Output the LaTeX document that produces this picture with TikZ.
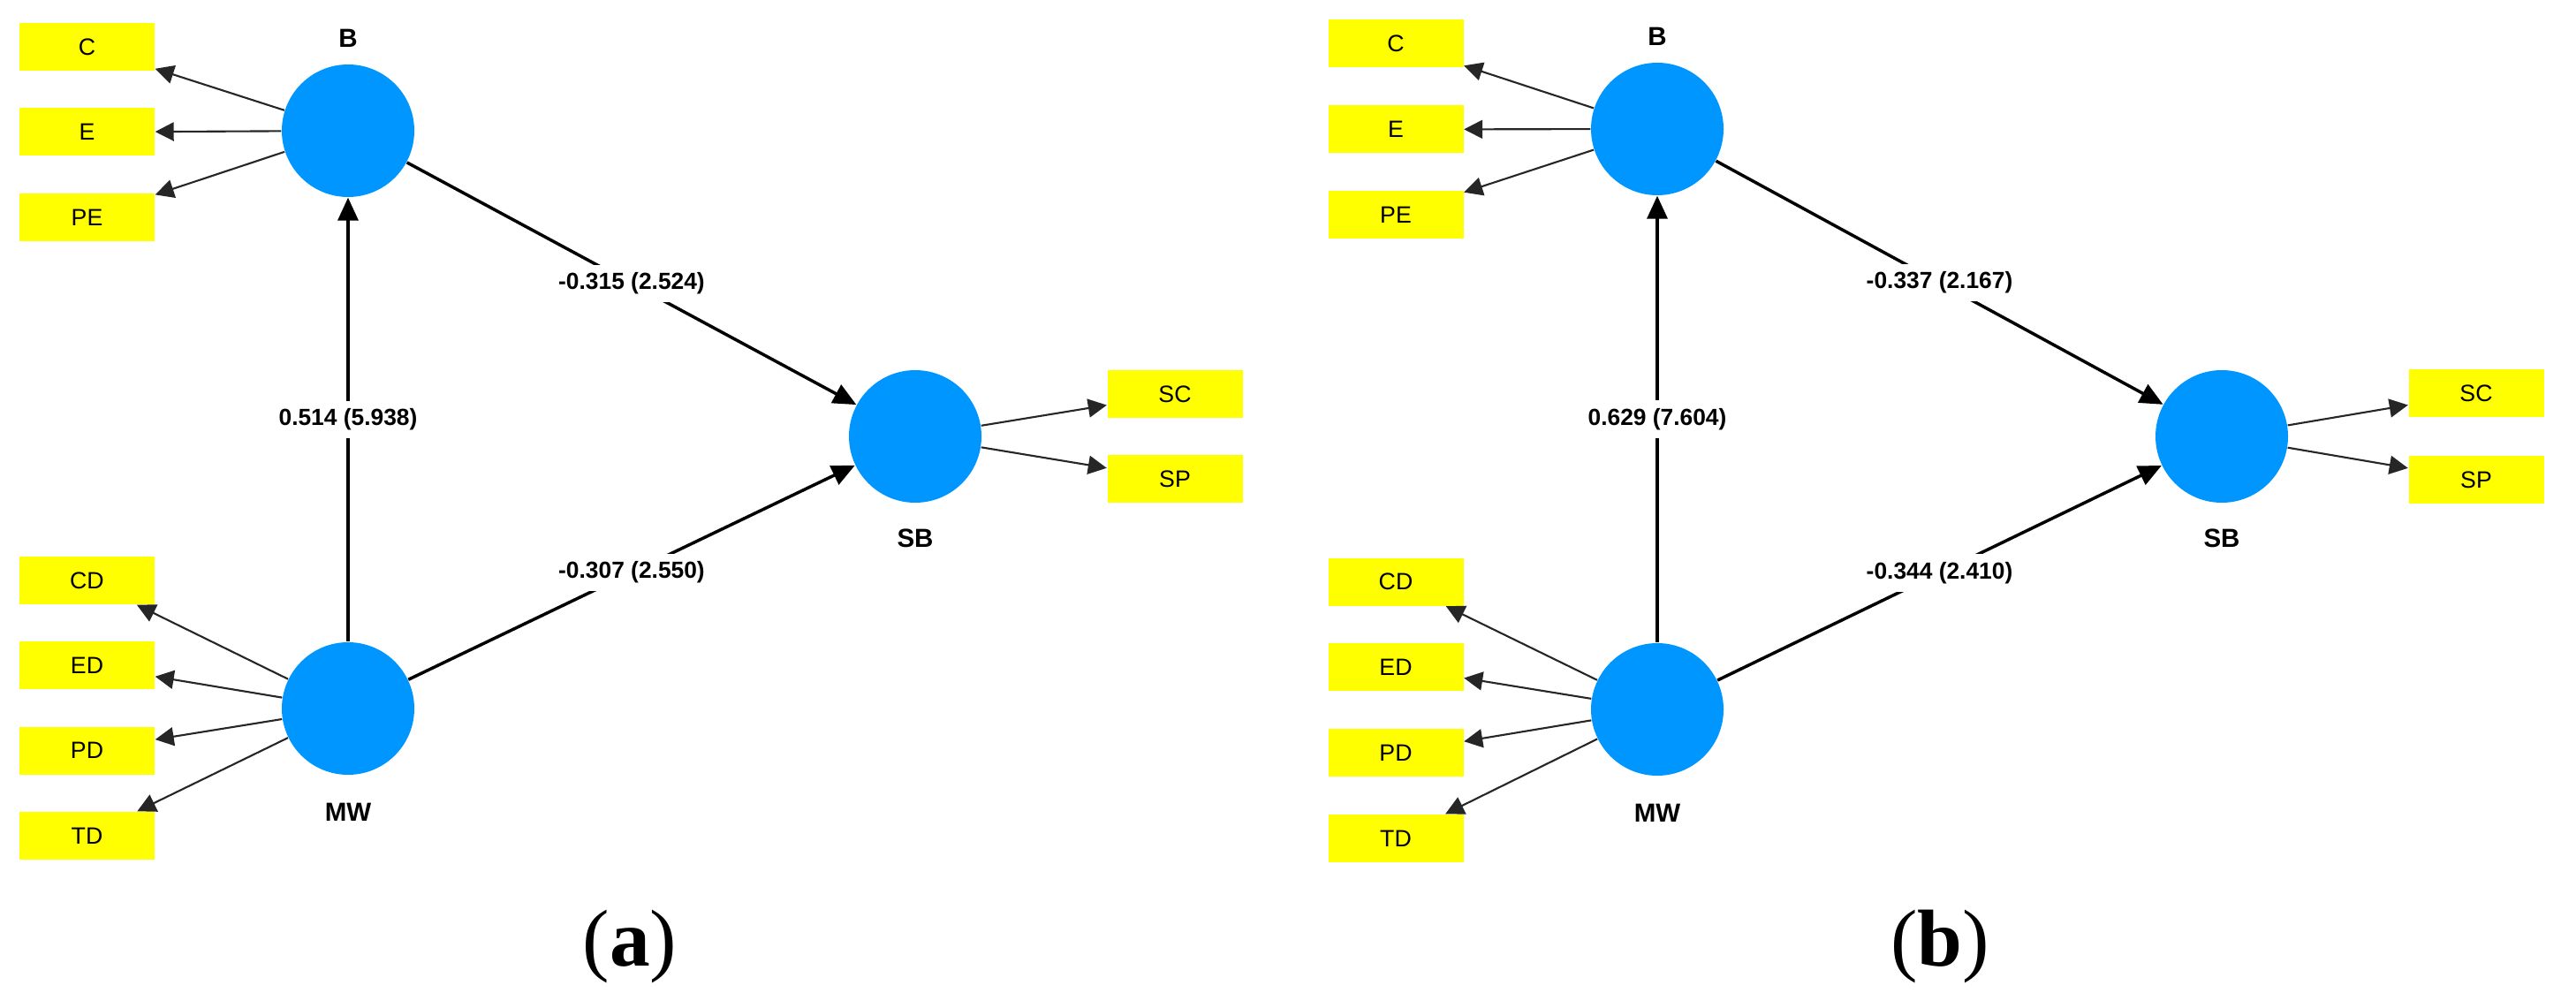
\documentclass[tikz,border=0pt]{standalone}
\usepackage{fontspec}
\setmainfont{Liberation Sans}
\newfontfamily\capfont{Liberation Serif}
\usepackage{tikz}
\usetikzlibrary{positioning, arrows.meta, calc}
\definecolor{lvblue}{RGB}{0,150,255}
\definecolor{indyellow}{RGB}{255,255,0}
\tikzset{
  lv/.style     = {circle, fill=lvblue, minimum size=1.5cm, inner sep=0pt},
  ind/.style    = {rectangle, fill=indyellow,
                   minimum width=1.53cm, minimum height=0.54cm, inner sep=0pt,
                   font=\fontsize{7.6}{8}\selectfont},
  lvname/.style = {inner sep=0pt, font=\fontsize{8.4}{9}\selectfont\bfseries},
  coef/.style   = {fill=white, inner xsep=2pt, inner ysep=2.5pt,
                   font=\fontsize{7.5}{8}\selectfont\bfseries},
  arr/.style    = {-{Triangle[length=2.6mm, width=2.3mm]}, line width=1pt},
  arr2/.style   = {-{Triangle[length=2.1mm, width=2.1mm]}, line width=0.6pt,
                   draw=black!85},
  subcap/.style = {inner sep=0pt, font=\fontsize{26}{30}\selectfont\capfont},
}

\begin{document}
\begin{tikzpicture}

\useasboundingbox (0,0) rectangle (29.16,-11.41);

% ════════════════════════════════════════════════
%  PANEL (a)
% ════════════════════════════════════════════════

% ── latent variables ──────────────────────────────
\node[lv] (B-a)  at (3.94, -1.48) {};
\node[lv] (MW-a) at (3.94, -8.02) {};
\node[lv] (SB-a) at (10.36, -4.94) {};

\node[lvname] (B-a-name)  at (3.94, -0.43)  {B};
\node[lvname] (MW-a-name) at (3.94, -9.19)  {MW};
\node[lvname] (SB-a-name) at (10.36, -6.09) {SB};

% ── indicators ────────────────────────────────────
\node[ind] (C-a)  at (0.985, -0.53)  {C};
\node[ind] (E-a)  at (0.985, -1.495) {E};
\node[ind] (PE-a) at (0.985, -2.46)  {PE};

\node[ind] (CD-a) at (0.985, -6.57)  {CD};
\node[ind] (ED-a) at (0.985, -7.53)  {ED};
\node[ind] (PD-a) at (0.985, -8.495) {PD};
\node[ind] (TD-a) at (0.985, -9.46)  {TD};

\node[ind] (SC-a) at (13.30, -4.46)  {SC};
\node[ind] (SP-a) at (13.30, -5.425) {SP};

\draw[arr2] (B-a) -- (C-a);
\draw[arr2] (B-a) -- (E-a);
\draw[arr2] (B-a) -- (PE-a);

\draw[arr2] (MW-a) -- (CD-a);
\draw[arr2] (MW-a) -- (ED-a);
\draw[arr2] (MW-a) -- (PD-a);
\draw[arr2] (MW-a) -- (TD-a);

\draw[arr2] (SB-a) -- (SC-a);
\draw[arr2] (SB-a) -- (SP-a);

% ── structural paths ──────────────────────────────
\draw[arr] (MW-a) -- node[coef] (p1-a) {0.514 (5.938)} (B-a);
\draw[arr] (B-a)  -- node[coef] (p2-a) {-0.315 (2.524)} (SB-a);
\draw[arr] (MW-a) -- node[coef] (p3-a) {-0.307 (2.550)} (SB-a);

\node[subcap] (cap-a) at (7.13, -10.72) {(\textbf{a})};

% ════════════════════════════════════════════════
%  PANEL (b)
% ════════════════════════════════════════════════

% ── latent variables ──────────────────────────────
\node[lv] (B-b)  at (18.76, -1.46) {};
\node[lv] (MW-b) at (18.76, -8.03) {};
\node[lv] (SB-b) at (25.15, -4.94) {};

\node[lvname] (B-b-name)  at (18.76, -0.41)  {B};
\node[lvname] (MW-b-name) at (18.76, -9.20)  {MW};
\node[lvname] (SB-b-name) at (25.15, -6.09)  {SB};

% ── indicators ────────────────────────────────────
\node[ind] (C-b)  at (15.80, -0.49)  {C};
\node[ind] (E-b)  at (15.80, -1.465) {E};
\node[ind] (PE-b) at (15.80, -2.43)  {PE};

\node[ind] (CD-b) at (15.80, -6.585) {CD};
\node[ind] (ED-b) at (15.80, -7.55)  {ED};
\node[ind] (PD-b) at (15.80, -8.52)  {PD};
\node[ind] (TD-b) at (15.80, -9.49)  {TD};

\node[ind] (SC-b) at (28.03, -4.455) {SC};
\node[ind] (SP-b) at (28.03, -5.43)  {SP};

\draw[arr2] (B-b) -- (C-b);
\draw[arr2] (B-b) -- (E-b);
\draw[arr2] (B-b) -- (PE-b);

\draw[arr2] (MW-b) -- (CD-b);
\draw[arr2] (MW-b) -- (ED-b);
\draw[arr2] (MW-b) -- (PD-b);
\draw[arr2] (MW-b) -- (TD-b);

\draw[arr2] (SB-b) -- (SC-b);
\draw[arr2] (SB-b) -- (SP-b);

% ── structural paths ──────────────────────────────
\draw[arr] (MW-b) -- node[coef] (p1-b) {0.629 (7.604)} (B-b);
\draw[arr] (B-b)  -- node[coef] (p2-b) {-0.337 (2.167)} (SB-b);
\draw[arr] (MW-b) -- node[coef] (p3-b) {-0.344 (2.410)} (SB-b);

\node[subcap] (cap-b) at (21.96, -10.72) {(\textbf{b})};

\end{tikzpicture}
\end{document}
